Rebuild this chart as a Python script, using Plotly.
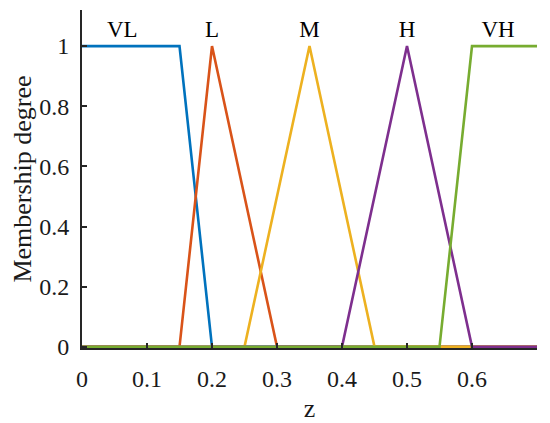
import plotly.graph_objects as go

# membership function breakpoints on z
z_vl = [0, 0.15, 0.2, 0.7]
mu_vl = [1, 1, 0, 0]
z_l = [0, 0.15, 0.2, 0.3, 0.7]
mu_l = [0, 0, 1, 0, 0]
z_m = [0, 0.25, 0.35, 0.45, 0.7]
mu_m = [0, 0, 1, 0, 0]
z_h = [0, 0.4, 0.5, 0.6, 0.7]
mu_h = [0, 0, 1, 0, 0]
z_vh = [0, 0.55, 0.6, 0.7]
mu_vh = [0, 0, 1, 1]

names = ["VL", "L", "M", "H", "VH"]
label_x = [0.062, 0.2, 0.35, 0.5, 0.64]
label_y = [1.05, 1.05, 1.05, 1.05, 1.05]

colors = ["#0072BD", "#D95319", "#EDB120", "#7E2F8E", "#77AC30"]
series = [(z_vl, mu_vl), (z_l, mu_l), (z_m, mu_m), (z_h, mu_h), (z_vh, mu_vh)]

fig = go.Figure()
for (zz, mu), name, c in zip(series, names, colors):
    fig.add_trace(go.Scatter(x=zz, y=mu, mode="lines", name=name,
                             line=dict(color=c, width=2.6)))

fig.add_trace(go.Scatter(x=label_x, y=label_y, mode="text", text=names,
                         textfont=dict(size=23, color="#000000"),
                         cliponaxis=False))

# the page body adds an 8px margin, so the figure is sized to fit the window
font = "Liberation Serif"
fig.update_layout(
    width=542, height=415,
    margin=dict(l=74, r=13, t=2, b=75),
    paper_bgcolor="white", plot_bgcolor="white",
    showlegend=False,
    font=dict(family=font, size=24, color="#1a1a1a"),
)
fig.update_xaxes(
    range=[0, 0.7], tickvals=[0, 0.1, 0.2, 0.3, 0.4, 0.5, 0.6],
    ticktext=["0", "0.1", "0.2", "0.3", "0.4", "0.5", "0.6"],
    showgrid=False, zeroline=False, showline=True, linecolor="#262626",
    linewidth=2, ticks="inside", ticklen=5, tickwidth=1.5, tickcolor="#262626",
    tickfont=dict(size=24), automargin=False, ticklabelstandoff=8,
    title=dict(text="z", standoff=10, font=dict(size=26)),
)
fig.update_yaxes(
    range=[-0.004, 1.12], tickvals=[0, 0.2, 0.4, 0.6, 0.8, 1],
    ticktext=["0", "0.2", "0.4", "0.6", "0.8", "1"],
    showgrid=False, zeroline=False, showline=True, linecolor="#262626",
    linewidth=2, ticks="inside", ticklen=5, tickwidth=1.5, tickcolor="#262626",
    tickfont=dict(size=24), automargin=False, ticklabelstandoff=6,
    title=dict(text="Membership degree", standoff=4, font=dict(size=26)),
)

fig.write_html("out.html")
